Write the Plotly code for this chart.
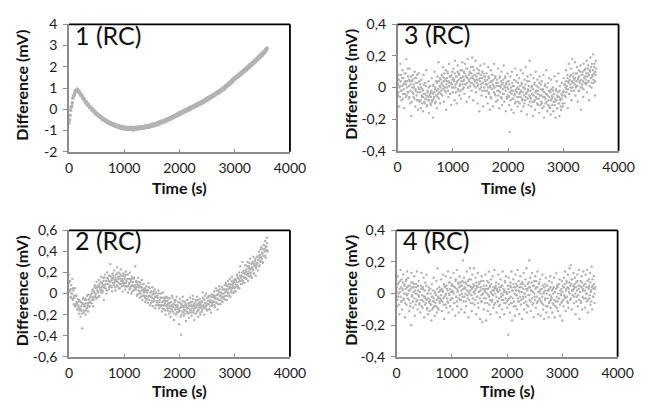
import plotly.graph_objects as go

# ---------------- data ----------------
time_p1 = list(range(0, 3600, 20))    # s, panel 1 readings (set a)
time_p1b = list(range(10, 3600, 20))  # s, panel 1 readings (set b)
time_n = list(range(0, 3600, 10))     # s, panels 2-4 readings (set a)
time_nb = list(range(5, 3600, 10))    # s, panels 2-4 readings (set b)

diff_1 = [
    -0.65, -0.28, 0.1, 0.3, 0.62, 0.72, 0.88, 0.87, 0.93, 0.8, 0.76, 0.64, 0.6, 0.49, 0.46, 0.33, 0.3, 0.2, 0.18, 0.08,
    0.07, -0.03, -0.04, -0.14, -0.15, -0.25, -0.23, -0.33, -0.31, -0.41, -0.4, -0.49, -0.47, -0.56, -0.54, -0.63, -0.6, -0.68, -0.64, -0.73,
    -0.69, -0.78, -0.73, -0.82, -0.77, -0.86, -0.8, -0.89, -0.83, -0.92, -0.85, -0.93, -0.86, -0.95, -0.87, -0.92, -0.88, -0.96, -0.86, -0.93,
    -0.85, -0.94, -0.86, -0.91, -0.83, -0.9, -0.82, -0.89, -0.8, -0.86, -0.78, -0.85, -0.76, -0.83, -0.74, -0.8, -0.71, -0.77, -0.68, -0.74,
    -0.64, -0.7, -0.6, -0.66, -0.56, -0.61, -0.53, -0.58, -0.48, -0.53, -0.43, -0.48, -0.39, -0.44, -0.33, -0.38, -0.28, -0.33, -0.22, -0.27,
    -0.15, -0.23, -0.11, -0.17, -0.06, -0.12, -0.01, -0.07, 0.04, -0.02, 0.1, 0.04, 0.14, 0.09, 0.2, 0.14, 0.25, 0.2, 0.31, 0.25,
    0.36, 0.31, 0.42, 0.37, 0.49, 0.43, 0.55, 0.49, 0.61, 0.55, 0.67, 0.62, 0.74, 0.69, 0.81, 0.75, 0.88, 0.83, 0.95, 0.9,
    1.03, 0.96, 1.12, 1.07, 1.21, 1.15, 1.3, 1.24, 1.4, 1.34, 1.5, 1.44, 1.58, 1.52, 1.66, 1.6, 1.75, 1.69, 1.84, 1.78,
    1.93, 1.86, 2.02, 1.96, 2.11, 2.05, 2.2, 2.14, 2.3, 2.24, 2.4, 2.34, 2.5, 2.44, 2.6, 2.54, 2.7, 2.65, 2.81, 2.86,
]
diff_1b = [
    -0.5, -0.05, 0.15, 0.52, 0.64, 0.84, 0.85, 0.95, 0.82, 0.82, 0.67, 0.68, 0.51, 0.52, 0.35, 0.36, 0.21, 0.23, 0.09, 0.11,
    -0.03, 0.01, -0.12, -0.1, -0.23, -0.2, -0.32, -0.28, -0.4, -0.36, -0.48, -0.44, -0.55, -0.51, -0.62, -0.57, -0.68, -0.62, -0.72, -0.67,
    -0.77, -0.71, -0.81, -0.75, -0.85, -0.78, -0.88, -0.81, -0.9, -0.83, -0.92, -0.85, -0.94, -0.86, -0.95, -0.85, -0.94, -0.86, -0.97, -0.87,
    -0.94, -0.85, -0.92, -0.84, -0.91, -0.83, -0.9, -0.81, -0.88, -0.79, -0.86, -0.77, -0.84, -0.74, -0.81, -0.71, -0.78, -0.68, -0.75, -0.65,
    -0.71, -0.61, -0.67, -0.57, -0.63, -0.53, -0.59, -0.48, -0.54, -0.44, -0.49, -0.39, -0.45, -0.34, -0.39, -0.29, -0.34, -0.23, -0.29, -0.18,
    -0.23, -0.12, -0.18, -0.07, -0.13, -0.02, -0.08, 0.03, -0.03, 0.08, 0.02, 0.13, 0.07, 0.18, 0.13, 0.24, 0.18, 0.29, 0.23, 0.34,
    0.29, 0.4, 0.35, 0.46, 0.41, 0.53, 0.48, 0.59, 0.54, 0.65, 0.6, 0.71, 0.67, 0.78, 0.74, 0.86, 0.81, 0.92, 0.88, 1.0,
    0.96, 1.09, 1.05, 1.18, 1.14, 1.27, 1.24, 1.37, 1.34, 1.47, 1.43, 1.55, 1.51, 1.63, 1.59, 1.72, 1.68, 1.81, 1.77, 1.9,
    1.86, 1.99, 1.95, 2.08, 2.04, 2.17, 2.14, 2.27, 2.24, 2.37, 2.34, 2.47, 2.44, 2.57, 2.54, 2.67, 2.64, 2.78, 2.75, 2.88,
]

diff_2 = [
    0.18, 0.02, 0.12, -0.03, 0.08, 0.0, 0.14, -0.06, 0.03, -0.1, -0.04, 0.05, -0.12, -0.02, -0.08, -0.15, -0.05, -0.11, -0.19, -0.07,
    -0.14, -0.22, -0.08, -0.16, -0.33, -0.1, -0.04, -0.18, -0.12, -0.06, -0.2, -0.09, -0.14, -0.02, -0.11, -0.17, -0.05, -0.12, -0.08, -0.01,
    -0.09, 0.0, -0.06, 0.04, -0.12, 0.02, -0.03, 0.08, -0.01, 0.05, 0.11, -0.04, 0.07, 0.02, 0.13, -0.02, 0.09, 0.04, 0.16, 0.01,
    0.1, 0.03, 0.15, -0.06, 0.08, 0.18, 0.05, 0.12, 0.0, 0.2, 0.09, 0.14, 0.04, 0.17, 0.11, 0.28, 0.07, 0.13, 0.02, 0.19,
    0.15, 0.08, 0.22, 0.11, 0.03, 0.18, 0.13, 0.25, 0.07, 0.16, 0.1, 0.2, 0.05, 0.14, 0.23, 0.09, 0.17, 0.02, 0.12, 0.19,
    0.1, 0.16, 0.04, 0.21, 0.12, 0.07, 0.18, 0.01, 0.14, 0.09, 0.2, 0.05, 0.13, 0.0, 0.16, 0.08, 0.11, 0.03, 0.15, 0.06,
    0.26, 0.04, 0.12, -0.02, 0.09, 0.15, 0.03, 0.07, -0.04, 0.11, 0.0, 0.06, 0.13, -0.06, 0.04, 0.09, -0.02, 0.05, -0.08, 0.02,
    0.07, -0.05, 0.03, -0.09, 0.1, -0.02, 0.05, -0.11, -0.03, 0.02, -0.07, 0.06, -0.12, 0.0, -0.05, 0.04, -0.14, -0.03, 0.01, -0.08,
    -0.02, -0.1, 0.03, -0.14, -0.06, 0.0, -0.12, -0.04, -0.17, -0.08, 0.01, -0.11, -0.15, -0.05, -0.09, -0.2, -0.03, -0.12, -0.07, -0.16,
    -0.09, -0.19, -0.04, -0.14, -0.22, -0.08, -0.12, -0.02, -0.17, -0.1, -0.25, -0.06, -0.15, -0.11, -0.2, -0.03, -0.13, -0.18, -0.08, -0.29,
    -0.14, -0.05, -0.22, -0.39, -0.1, -0.17, -0.03, -0.13, -0.21, -0.08, -0.16, -0.11, -0.26, -0.06, -0.14, -0.19, -0.09, -0.23, -0.12, -0.04,
    -0.16, -0.08, -0.21, -0.12, -0.02, -0.18, -0.1, -0.25, -0.14, -0.06, -0.19, -0.11, -0.03, -0.16, -0.22, -0.09, -0.13, -0.05, -0.2, -0.12,
    -0.07, -0.17, 0.01, -0.12, -0.05, -0.2, -0.09, -0.14, 0.0, -0.11, -0.16, -0.04, -0.1, -0.02, -0.15, -0.08, -0.12, -0.18, -0.03, -0.09,
    -0.11, -0.03, -0.08, 0.02, -0.13, -0.05, 0.05, -0.09, -0.01, -0.15, 0.03, -0.06, 0.07, -0.02, -0.1, 0.01, -0.04, 0.06, -0.08, 0.0,
    0.04, -0.05, 0.08, -0.02, 0.1, 0.02, -0.06, 0.07, 0.12, 0.0, 0.05, 0.14, -0.03, 0.09, 0.03, 0.16, 0.06, 0.1, 0.01, 0.13,
    0.06, 0.14, 0.02, 0.11, 0.18, 0.08, 0.15, 0.05, 0.2, 0.12, 0.26, 0.09, 0.17, 0.13, 0.3, 0.1, 0.22, 0.15, 0.19, 0.27,
    0.14, 0.23, 0.18, 0.3, 0.12, 0.21, 0.26, 0.16, 0.33, 0.2, 0.24, 0.15, 0.29, 0.22, 0.35, 0.19, 0.27, 0.31, 0.17, 0.26,
    0.28, 0.35, 0.22, 0.32, 0.4, 0.27, 0.37, 0.31, 0.44, 0.33, 0.38, 0.29, 0.46, 0.36, 0.42, 0.5, 0.34, 0.45, 0.53, 0.41,
]
diff_2b = [
    0.1, 0.02, 0.04, -0.04, 0.04, 0.0, -0.05, 0.05, -0.04, -0.02, -0.12, -0.02, -0.1, -0.02, -0.09, -0.15, -0.08, -0.13, -0.06, -0.16,
    -0.15, -0.08, -0.12, -0.19, -0.09, -0.05, -0.16, -0.1, -0.12, -0.05, -0.16, -0.06, -0.09, -0.13, -0.01, -0.09, -0.06, -0.12, -0.03, -0.09,
    -0.03, -0.09, 0.02, -0.04, -0.06, 0.01, 0.06, -0.03, 0.0, -0.05, 0.06, 0.03, 0.01, 0.08, -0.03, 0.06, 0.04, 0.11, 0.02, 0.06,
    0.01, 0.08, 0.12, 0.06, 0.15, 0.05, 0.09, 0.12, 0.03, 0.15, 0.09, 0.12, 0.06, 0.17, 0.08, 0.12, 0.16, 0.06, 0.14, 0.1,
    0.17, 0.1, 0.13, 0.06, 0.15, 0.12, 0.08, 0.19, 0.11, 0.14, 0.05, 0.16, 0.09, 0.18, 0.12, 0.07, 0.14, 0.1, 0.17, 0.08,
    0.14, 0.07, 0.18, 0.1, 0.07, 0.14, 0.18, 0.07, 0.1, 0.04, 0.14, 0.11, 0.07, 0.14, 0.02, 0.11, 0.07, 0.14, 0.04, 0.08,
    0.04, 0.11, 0.06, -0.01, 0.08, 0.11, 0.0, 0.06, 0.02, 0.09, -0.03, 0.06, 0.03, -0.02, 0.09, 0.01, 0.03, -0.04, 0.04, -0.02,
    -0.06, 0.01, 0.03, -0.03, 0.06, -0.06, -0.02, 0.01, -0.09, 0.02, -0.04, -0.01, -0.08, 0.02, -0.07, -0.03, 0.0, -0.11, -0.03, -0.07,
    -0.04, -0.11, 0.0, -0.08, -0.11, -0.04, 0.0, -0.11, -0.08, -0.14, -0.04, -0.07, -0.11, -0.04, -0.16, -0.07, -0.11, -0.04, -0.14, -0.1,
    -0.05, -0.12, -0.09, -0.17, -0.08, -0.11, -0.15, -0.04, -0.13, -0.1, -0.19, -0.08, -0.15, -0.06, -0.13, -0.18, -0.11, -0.15, -0.08, -0.17,
    -0.16, -0.09, -0.13, -0.2, -0.11, -0.07, -0.18, -0.12, -0.15, -0.08, -0.19, -0.1, -0.13, -0.17, -0.06, -0.14, -0.11, -0.18, -0.09, -0.15,
    -0.18, -0.11, -0.08, -0.14, -0.05, -0.16, -0.12, -0.09, -0.19, -0.07, -0.13, -0.1, -0.17, -0.06, -0.15, -0.11, -0.08, -0.18, -0.1, -0.14,
    -0.08, -0.15, -0.04, -0.11, -0.13, -0.06, -0.02, -0.12, -0.09, -0.15, -0.04, -0.07, -0.1, -0.03, -0.15, -0.06, -0.08, -0.01, -0.11, -0.07,
    -0.01, -0.08, -0.04, -0.11, -0.02, -0.04, -0.08, 0.03, -0.05, -0.01, -0.1, 0.01, -0.06, 0.04, -0.02, -0.07, 0.0, -0.03, 0.04, -0.05,
    -0.03, 0.04, 0.01, -0.06, 0.04, 0.08, -0.02, 0.04, 0.01, 0.09, -0.02, 0.07, 0.05, 0.01, 0.12, 0.05, 0.08, 0.01, 0.11, 0.05,
    0.02, 0.09, 0.13, 0.07, 0.17, 0.06, 0.11, 0.14, 0.05, 0.17, 0.12, 0.15, 0.09, 0.2, 0.12, 0.16, 0.2, 0.1, 0.19, 0.15,
    0.21, 0.14, 0.26, 0.19, 0.17, 0.24, 0.29, 0.19, 0.23, 0.17, 0.28, 0.25, 0.23, 0.3, 0.19, 0.28, 0.26, 0.33, 0.24, 0.29,
    0.35, 0.29, 0.32, 0.26, 0.36, 0.34, 0.3, 0.42, 0.35, 0.39, 0.3, 0.42, 0.36, 0.46, 0.4, 0.36, 0.44, 0.41, 0.48, 0.4,
]

diff_3 = [
    0.03, -0.05, 0.08, -0.12, 0.01, 0.15, -0.02, -0.08, 0.06, 0.11, -0.04, 0.02, -0.13, 0.09, 0.04, -0.06, 0.18, 0.0, -0.03, 0.07,
    -0.07, 0.05, 0.12, -0.1, 0.02, -0.18, 0.04, -0.03, 0.08, -0.06, 0.0, 0.1, -0.12, -0.02, 0.06, -0.08, 0.03, -0.14, 0.09, -0.01,
    -0.09, 0.02, -0.13, 0.05, -0.06, -0.01, -0.15, 0.08, -0.04, -0.1, 0.03, -0.07, 0.11, -0.12, -0.02, -0.08, 0.04, -0.16, -0.05, 0.01,
    -0.11, -0.03, 0.06, -0.08, -0.19, 0.02, -0.06, 0.1, -0.01, -0.09, 0.04, -0.13, 0.07, -0.04, 0.16, -0.07, 0.01, -0.1, 0.05, -0.02,
    0.08, -0.05, 0.13, 0.01, -0.09, 0.06, -0.02, 0.11, -0.14, 0.04, 0.0, 0.09, -0.06, 0.15, 0.03, -0.04, 0.07, -0.11, 0.02, 0.1,
    -0.03, 0.12, 0.05, -0.08, 0.17, 0.0, 0.07, -0.1, 0.04, 0.14, -0.02, 0.09, -0.05, 0.02, 0.11, -0.07, 0.06, 0.16, -0.01, 0.04,
    0.1, -0.04, 0.15, 0.02, 0.07, -0.09, 0.12, 0.18, 0.0, 0.05, -0.06, 0.09, 0.03, 0.13, -0.02, 0.19, 0.06, -0.08, 0.11, 0.01,
    0.08, 0.17, -0.03, 0.05, 0.12, -0.1, 0.02, 0.09, -0.15, 0.06, 0.14, 0.0, -0.05, 0.1, 0.03, -0.12, 0.07, 0.15, -0.02, 0.04,
    -0.06, 0.09, 0.02, -0.1, 0.13, -0.03, 0.06, -0.14, 0.0, 0.11, -0.07, 0.04, 0.08, -0.12, 0.01, 0.15, -0.04, 0.07, -0.09, 0.03,
    0.05, -0.08, 0.12, -0.02, -0.13, 0.07, 0.01, -0.06, 0.1, -0.11, 0.03, -0.04, 0.14, -0.09, 0.0, 0.06, -0.15, 0.02, -0.07, 0.09,
    -0.05, 0.04, -0.11, -0.28, 0.07, -0.02, -0.14, 0.1, -0.07, 0.01, -0.16, 0.05, -0.04, 0.12, -0.09, -0.01, 0.08, -0.12, 0.03, -0.06,
    0.06, -0.1, -0.03, 0.11, -0.15, 0.02, -0.07, 0.09, -0.12, 0.0, 0.05, -0.08, 0.13, -0.04, -0.17, 0.07, -0.01, -0.11, 0.04, 0.17,
    -0.06, 0.08, -0.12, 0.01, -0.04, -0.18, 0.06, -0.09, 0.03, -0.14, 0.1, -0.02, -0.07, 0.05, -0.11, 0.0, -0.16, 0.07, -0.05, 0.02,
    -0.09, 0.04, -0.13, -0.01, 0.08, -0.19, -0.06, 0.02, -0.1, 0.11, -0.04, -0.15, 0.03, -0.08, 0.06, -0.12, -0.02, -0.17, 0.05, -0.07,
    -0.11, 0.0, -0.15, -0.04, 0.07, -0.09, -0.19, -0.02, 0.04, -0.13, -0.06, 0.09, -0.1, -0.18, 0.01, -0.07, -0.14, 0.03, -0.05, -0.12,
    -0.03, 0.06, -0.1, 0.02, -0.06, 0.11, -0.01, 0.08, -0.13, 0.04, 0.15, -0.04, 0.07, 0.0, 0.12, -0.08, 0.18, 0.03, 0.09, -0.02,
    0.05, 0.16, -0.05, 0.09, 0.01, 0.13, -0.09, 0.06, 0.11, -0.02, 0.04, 0.14, -0.14, 0.08, 0.0, 0.1, -0.06, 0.15, 0.03, 0.07,
    0.12, 0.02, 0.17, -0.03, 0.09, 0.14, 0.04, -0.08, 0.11, 0.19, 0.06, 0.0, 0.15, 0.08, 0.21, 0.03, 0.13, -0.05, 0.1, 0.17,
]
diff_3b = [
    0.02, -0.03, 0.05, 0.0, -0.06, 0.04, 0.08, -0.02, 0.01, -0.07, 0.06, -0.01, 0.03, -0.04, 0.09, 0.02, -0.05, 0.04, 0.12, -0.03,
    0.01, -0.06, 0.04, -0.02, 0.07, -0.09, 0.0, 0.05, -0.04, 0.02, -0.07, 0.06, -0.01, 0.03, -0.05, 0.08, -0.03, 0.0, -0.08, 0.04,
    -0.03, -0.08, 0.0, -0.05, -0.1, -0.02, -0.06, 0.02, -0.09, -0.04, -0.07, 0.01, -0.05, -0.11, -0.03, -0.06, 0.0, -0.08, -0.04, -0.1,
    -0.06, -0.02, -0.09, -0.04, 0.01, -0.07, -0.03, -0.1, 0.0, -0.05, -0.02, 0.03, -0.06, -0.01, 0.04, -0.03, 0.06, 0.0, -0.04, 0.02,
    0.03, 0.07, -0.01, 0.04, 0.09, 0.0, 0.05, -0.03, 0.02, 0.06, 0.1, -0.02, 0.04, 0.01, 0.07, -0.04, 0.03, 0.08, 0.0, 0.05,
    0.06, 0.0, 0.04, 0.09, 0.02, -0.03, 0.07, 0.03, 0.1, -0.01, 0.05, 0.08, 0.01, 0.06, -0.02, 0.04, 0.11, 0.02, 0.07, 0.0,
    0.05, 0.09, 0.02, 0.07, 0.12, 0.03, 0.06, 0.0, 0.08, 0.04, 0.1, 0.01, 0.06, 0.09, 0.03, 0.07, 0.13, 0.02, 0.05, 0.08,
    0.04, 0.0, 0.07, 0.03, 0.09, 0.01, 0.05, 0.11, -0.01, 0.04, 0.08, 0.02, 0.06, -0.02, 0.03, 0.09, 0.0, 0.05, 0.07, 0.02,
    0.02, -0.02, 0.05, 0.0, 0.07, -0.04, 0.03, 0.01, -0.06, 0.04, 0.08, -0.01, 0.02, 0.05, -0.03, 0.0, 0.06, -0.05, 0.03, 0.01,
    -0.02, 0.03, -0.05, 0.01, 0.06, -0.03, 0.0, 0.04, -0.07, 0.02, -0.01, 0.05, -0.04, 0.01, 0.07, -0.02, 0.03, -0.06, 0.0, 0.04,
    -0.01, -0.06, 0.02, -0.03, -0.08, 0.0, -0.04, 0.03, -0.02, -0.07, 0.01, -0.05, -0.1, -0.02, 0.04, -0.03, -0.06, 0.0, -0.09, -0.01,
    -0.04, 0.01, -0.06, -0.02, 0.03, -0.08, -0.03, 0.0, -0.05, -0.1, -0.01, 0.02, -0.06, -0.03, 0.04, -0.07, -0.02, 0.01, -0.05, -0.09,
    -0.02, -0.07, 0.0, -0.04, -0.09, -0.01, -0.05, 0.02, -0.08, -0.03, -0.06, 0.01, -0.1, -0.04, -0.02, -0.07, 0.03, -0.05, -0.11, -0.01,
    -0.05, -0.1, -0.02, -0.06, -0.12, -0.03, 0.01, -0.07, -0.04, -0.09, 0.0, -0.05, -0.11, -0.02, -0.06, -0.13, -0.03, -0.08, -0.01, -0.05,
    -0.06, -0.02, -0.09, -0.04, -0.11, -0.07, -0.01, -0.08, -0.13, -0.05, -0.03, -0.1, -0.06, -0.02, -0.08, -0.12, -0.04, -0.07, -0.1, -0.03,
    -0.02, 0.02, -0.05, 0.0, 0.04, -0.03, 0.01, 0.06, -0.01, 0.03, -0.04, 0.05, 0.02, 0.08, -0.02, 0.04, 0.0, 0.07, 0.03, 0.06,
    0.02, 0.06, 0.0, 0.04, 0.09, 0.01, 0.05, -0.02, 0.07, 0.03, 0.1, 0.0, 0.05, 0.02, 0.08, 0.04, -0.01, 0.06, 0.11, 0.03,
    0.05, 0.09, 0.03, 0.07, 0.12, 0.04, 0.08, 0.01, 0.1, 0.06, 0.13, 0.03, 0.07, 0.11, 0.05, 0.09, 0.15, 0.04, 0.08, 0.12,
]

diff_4 = [
    0.04, -0.08, 0.11, -0.02, 0.07, -0.13, 0.01, 0.15, -0.05, 0.09, -0.1, 0.03, 0.12, -0.04, 0.06, -0.15, 0.0, 0.08, -0.07, 0.14,
    -0.03, 0.1, 0.02, -0.11, 0.05, -0.06, -0.2, 0.13, -0.01, 0.07, -0.09, 0.04, 0.11, -0.14, 0.0, 0.06, -0.05, 0.14, -0.1, 0.02,
    0.08, -0.07, 0.01, -0.12, 0.05, 0.13, -0.04, -0.09, 0.03, 0.1, -0.15, -0.02, 0.07, -0.06, 0.12, -0.1, 0.0, -0.13, 0.04, -0.05,
    -0.11, 0.03, -0.07, -0.17, 0.06, -0.02, -0.09, 0.1, -0.05, -0.14, 0.01, -0.08, 0.08, -0.12, 0.16, -0.03, -0.1, 0.04, -0.06, 0.02,
    -0.04, 0.09, -0.11, 0.02, 0.12, -0.07, -0.16, 0.05, -0.01, 0.11, -0.09, 0.03, -0.05, 0.14, -0.12, 0.0, 0.07, -0.08, 0.1, -0.03,
    0.06, -0.1, 0.01, 0.13, -0.06, 0.04, -0.14, 0.09, -0.02, 0.15, -0.08, 0.02, 0.07, -0.12, 0.11, -0.04, 0.05, -0.1, 0.0, 0.08,
    0.21, -0.05, 0.1, -0.12, 0.03, 0.07, -0.08, 0.14, -0.01, 0.05, -0.15, 0.09, 0.0, 0.16, -0.06, 0.04, -0.11, 0.12, -0.03, 0.06,
    0.16, -0.07, 0.02, 0.1, -0.13, 0.05, -0.02, 0.13, -0.09, 0.01, 0.07, -0.16, 0.04, -0.05, 0.11, -0.18, 0.0, 0.08, -0.1, 0.03,
    -0.06, 0.12, -0.17, 0.03, 0.08, -0.11, -0.01, 0.14, -0.07, 0.05, -0.13, 0.09, 0.0, -0.04, 0.11, -0.09, 0.02, 0.15, -0.06, 0.04,
    0.07, -0.12, 0.02, -0.05, 0.12, -0.08, 0.04, -0.15, 0.09, -0.02, 0.05, -0.1, 0.14, -0.04, 0.01, -0.13, 0.08, -0.06, 0.11, 0.0,
    -0.09, 0.05, -0.26, 0.1, -0.03, -0.12, 0.07, -0.06, 0.14, -0.17, 0.02, 0.09, -0.08, 0.04, -0.14, 0.12, -0.01, 0.06, -0.1, 0.15,
    -0.05, 0.08, -0.13, 0.01, 0.11, -0.07, 0.04, -0.16, 0.06, -0.02, 0.13, -0.1, 0.0, 0.09, -0.05, 0.16, -0.12, 0.03, -0.08, 0.07,
    0.21, -0.04, 0.1, -0.11, 0.02, 0.13, -0.07, 0.05, -0.15, 0.08, -0.02, 0.11, -0.09, 0.04, -0.06, 0.14, -0.13, 0.01, 0.07, -0.04,
    0.09, -0.14, 0.03, -0.06, 0.12, -0.1, 0.0, -0.16, 0.06, -0.03, 0.1, -0.12, 0.05, -0.08, 0.02, -0.15, 0.08, -0.05, 0.11, -0.09,
    -0.02, 0.07, -0.12, 0.03, -0.07, 0.1, -0.15, 0.01, -0.05, 0.13, -0.09, 0.04, -0.11, 0.06, -0.03, 0.09, -0.14, 0.0, -0.06, 0.08,
    -0.17, 0.05, -0.08, 0.1, -0.02, 0.14, -0.11, 0.03, 0.07, -0.05, 0.12, -0.09, 0.01, 0.16, -0.04, 0.18, 0.06, -0.1, 0.09, 0.02,
    0.13, -0.06, 0.04, 0.1, -0.13, 0.07, -0.02, 0.12, -0.08, 0.05, 0.15, -0.16, 0.01, 0.08, -0.05, 0.11, -0.1, 0.03, 0.14, -0.03,
    0.06, -0.09, 0.12, 0.0, -0.05, 0.15, -0.12, 0.04, 0.09, -0.03, 0.13, -0.07, 0.02, 0.17, -0.1, 0.05, -0.02, 0.11, -0.06, 0.03,
]
diff_4b = [
    0.01, -0.04, 0.06, 0.0, -0.07, 0.03, 0.08, -0.02, 0.04, -0.05, 0.02, 0.07, -0.03, 0.0, 0.05, -0.06, 0.03, 0.09, -0.01, 0.04,
    0.0, 0.05, -0.04, 0.02, -0.08, 0.03, 0.07, -0.02, 0.04, -0.05, 0.01, 0.06, -0.03, 0.02, -0.07, 0.04, 0.0, -0.04, 0.05, -0.01,
    -0.02, -0.06, 0.01, -0.04, 0.03, -0.08, -0.01, 0.04, -0.05, -0.02, 0.02, -0.07, -0.03, 0.05, -0.04, -0.09, 0.0, -0.03, 0.02, -0.06,
    -0.04, 0.0, -0.07, -0.02, -0.1, -0.05, 0.02, -0.03, -0.08, 0.0, -0.06, -0.01, -0.04, 0.03, -0.09, -0.02, 0.01, -0.05, -0.03, 0.02,
    -0.01, 0.03, -0.05, 0.01, -0.03, 0.06, -0.02, 0.04, -0.07, 0.0, 0.05, -0.03, 0.02, -0.06, 0.07, -0.01, 0.03, -0.04, 0.01, 0.05,
    0.02, -0.03, 0.05, 0.0, -0.06, 0.04, 0.08, -0.02, 0.03, -0.05, 0.01, 0.06, -0.03, 0.04, -0.01, 0.07, -0.04, 0.02, 0.05, -0.02,
    0.03, 0.07, -0.02, 0.04, 0.0, -0.05, 0.06, 0.02, -0.03, 0.08, 0.01, -0.04, 0.05, 0.02, 0.09, -0.01, 0.03, -0.06, 0.04, 0.01,
    0.05, 0.0, -0.04, 0.03, 0.07, -0.02, 0.04, -0.06, 0.01, 0.06, -0.03, 0.02, 0.08, -0.01, -0.05, 0.03, 0.0, 0.05, -0.03, 0.02,
    0.01, -0.03, 0.05, 0.0, -0.06, 0.03, 0.07, -0.02, 0.04, -0.04, 0.01, 0.06, -0.05, 0.02, -0.01, 0.04, -0.07, 0.03, 0.0, 0.05,
    -0.02, 0.03, -0.05, 0.01, 0.06, -0.03, 0.02, -0.07, 0.04, 0.0, -0.04, 0.05, -0.01, 0.03, -0.06, 0.02, 0.07, -0.03, 0.01, -0.05,
    0.0, -0.04, 0.03, -0.07, 0.01, 0.05, -0.02, 0.04, -0.06, 0.02, -0.03, 0.06, -0.05, 0.0, 0.04, -0.08, 0.02, -0.01, 0.05, -0.03,
    0.02, -0.05, 0.04, -0.02, 0.06, -0.04, 0.01, 0.07, -0.03, 0.03, -0.06, 0.0, 0.05, -0.02, 0.03, -0.07, 0.02, 0.06, -0.01, 0.04,
    -0.01, 0.04, -0.05, 0.02, 0.07, -0.03, 0.01, -0.06, 0.05, 0.0, -0.04, 0.03, 0.08, -0.02, 0.04, -0.05, 0.01, 0.06, -0.03, 0.02,
    0.0, -0.05, 0.03, -0.02, 0.05, -0.07, 0.01, 0.04, -0.04, 0.02, -0.08, 0.0, 0.05, -0.03, 0.02, -0.06, 0.03, -0.01, 0.04, -0.04,
    -0.03, 0.02, -0.06, 0.0, 0.04, -0.04, 0.01, -0.08, 0.03, -0.02, 0.05, -0.05, 0.0, -0.03, 0.06, -0.07, 0.02, -0.01, 0.03, -0.05,
    0.01, -0.04, 0.04, -0.01, 0.06, -0.03, 0.02, 0.08, -0.02, 0.04, -0.06, 0.03, 0.07, 0.0, 0.05, -0.03, 0.09, 0.02, -0.01, 0.05,
    0.03, -0.02, 0.06, 0.0, 0.04, -0.05, 0.02, 0.08, -0.01, 0.03, -0.04, 0.05, 0.01, -0.06, 0.04, 0.07, -0.02, 0.02, 0.05, -0.03,
    0.02, 0.06, -0.03, 0.04, 0.0, 0.08, -0.04, 0.03, 0.05, -0.01, 0.07, 0.01, -0.05, 0.04, 0.09, -0.02, 0.03, 0.06, 0.0, 0.04,
]

panel_labels = ["1 (RC)", "2 (RC)", "3 (RC)", "4 (RC)"]
x_ticks = [0, 1000, 2000, 3000, 4000]
x_ticktext = ["0", "1000", "2000", "3000", "4000"]
y_ticks_1 = [-2, -1, 0, 1, 2, 3, 4]
y_ticktext_1 = ["-2", "-1", "0", "1", "2", "3", "4"]
y_ticks_2 = [-0.6, -0.4, -0.2, 0, 0.2, 0.4, 0.6]
y_ticktext_2 = ["-0,6", "-0,4", "-0,2", "0", "0,2", "0,4", "0,6"]
y_ticks_34 = [-0.4, -0.2, 0, 0.2, 0.4]
y_ticktext_34 = ["-0,4", "-0,2", "0", "0,2", "0,4"]

# ---------------- figure ----------------
W, H = 653, 407
FONT = "Lato"
MARKER = "#b3b3b3"
AXIS_GREY = "#8c8c8c"

# pixel boxes of each plot area: (left, right, top, bottom)
boxes = {
    1: (67, 295, 16, 149),
    2: (67, 295, 231, 363),
    3: (406, 634, 16, 148),
    4: (405, 633, 231, 363),
}

def xdom(b):
    return [b[0] / W, b[1] / W]

def ydom(b):
    return [1 - b[3] / H, 1 - b[2] / H]

series = {
    1: (time_p1 + time_p1b, diff_1 + diff_1b, 3.6),
    2: (time_n + time_nb, diff_2 + diff_2b, 2.4),
    3: (time_n + time_nb, diff_3 + diff_3b, 2.4),
    4: (time_n + time_nb, diff_4 + diff_4b, 2.4),
}
yinfo = {
    1: ([-2, 4], y_ticks_1, y_ticktext_1),
    2: ([-0.6, 0.6], y_ticks_2, y_ticktext_2),
    3: ([-0.4, 0.4], y_ticks_34, y_ticktext_34),
    4: ([-0.4, 0.4], y_ticks_34, y_ticktext_34),
}

fig = go.Figure()
layout = dict(
    width=W, height=H,
    margin=dict(l=0, r=0, t=0, b=0),
    paper_bgcolor="white", plot_bgcolor="white",
    showlegend=False,
    font=dict(family=FONT, size=14, color="#1a1a1a"),
)
annotations = []
shapes = []

for i in (1, 2, 3, 4):
    b = boxes[i]
    xs, ys, msize = series[i]
    xa = "x" if i == 1 else f"x{i}"
    ya = "y" if i == 1 else f"y{i}"
    fig.add_trace(go.Scatter(
        x=xs, y=ys, mode="markers", xaxis=xa, yaxis=ya,
        marker=dict(size=msize, color=MARKER, line=dict(width=0)),
        hoverinfo="skip",
    ))
    xkey = "xaxis" if i == 1 else f"xaxis{i}"
    ykey = "yaxis" if i == 1 else f"yaxis{i}"
    yr, yt, ytt = yinfo[i]
    layout[xkey] = dict(
        domain=xdom(b), anchor=ya, range=[0, 4000],
        tickmode="array", tickvals=x_ticks, ticktext=x_ticktext,
        showgrid=False, zeroline=False,
        showline=True, linecolor=AXIS_GREY, linewidth=1.5,
        ticks="inside", ticklen=3, tickcolor=AXIS_GREY, tickwidth=1,
        ticklabelstandoff=3,
        tickfont=dict(family=FONT, size=14, color="#1a1a1a"),
    )
    layout[ykey] = dict(
        domain=ydom(b), anchor=xa, range=yr,
        tickmode="array", tickvals=yt, ticktext=ytt,
        showgrid=False, zeroline=False,
        showline=True, linecolor=AXIS_GREY, linewidth=1.5,
        ticks="outside", ticklen=4, tickcolor=AXIS_GREY, tickwidth=1,
        ticklabelstandoff=3,
        tickfont=dict(family=FONT, size=14, color="#1a1a1a"),
    )
    # black top and right frame
    shapes.append(dict(type="line", xref=f"{xa} domain", yref=f"{ya} domain",
                       x0=0, x1=1, y0=1, y1=1, line=dict(color="black", width=1.8)))
    shapes.append(dict(type="line", xref=f"{xa} domain", yref=f"{ya} domain",
                       x0=1, x1=1, y0=0, y1=1, line=dict(color="black", width=1.8)))
    # panel label
    annotations.append(dict(
        text=panel_labels[i - 1], xref=f"{xa} domain", yref=f"{ya} domain",
        x=0.02, y=0.92, xanchor="left", yanchor="middle", showarrow=False,
        font=dict(family=FONT, size=25, color="#111111"),
    ))
    # axis titles
    cx = (b[0] + b[1]) / 2
    left_title_x = 18 if b[0] < 200 else 358
    annotations.append(dict(
        text="<b>Difference (mV)</b>", xref="paper", yref="paper",
        x=left_title_x / W, y=1 - ((b[2] + b[3]) / 2 - 3) / H,
        xanchor="center", yanchor="middle", textangle=-90, showarrow=False,
        font=dict(family=FONT, size=16, color="#111111"),
    ))
    title_y = 186 if b[2] < 100 else 398
    annotations.append(dict(
        text="<b>Time (s)</b>", xref="paper", yref="paper",
        x=cx / W, y=1 - title_y / H,
        xanchor="center", yanchor="middle", showarrow=False,
        font=dict(family=FONT, size=16, color="#111111"),
    ))

layout["annotations"] = annotations
layout["shapes"] = shapes
fig.update_layout(**layout)

fig.write_html("out.html")
